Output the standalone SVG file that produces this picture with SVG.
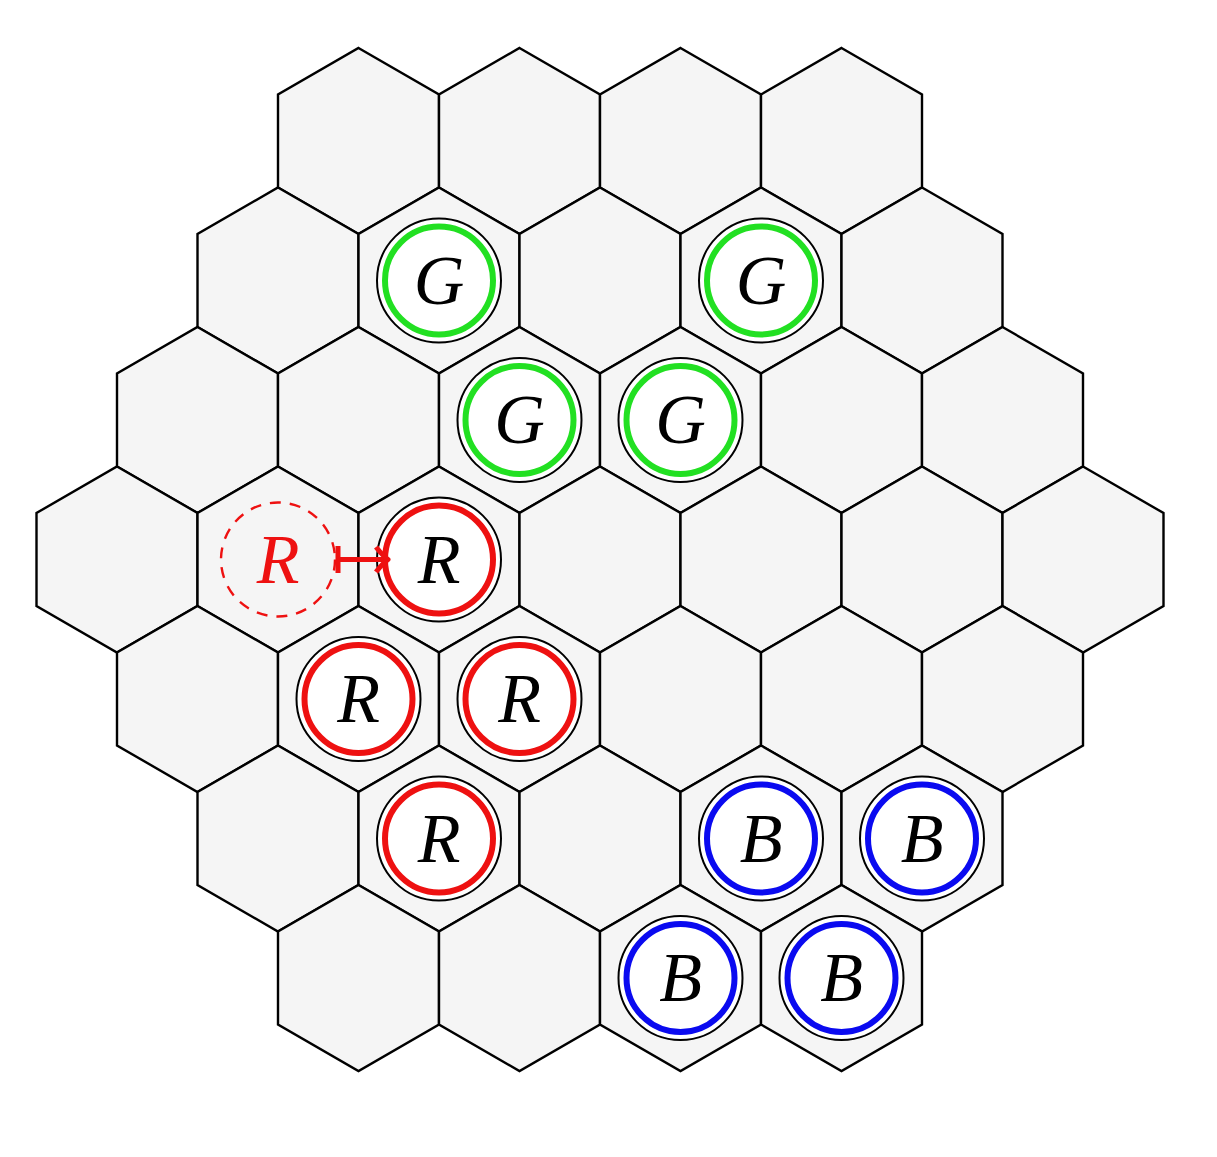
<svg xmlns="http://www.w3.org/2000/svg" xmlns:xlink="http://www.w3.org/1999/xlink" width="1217" height="1157" viewBox="0 0 1217 1157">
<style>
.hex{fill:#f5f5f5;stroke:#000;stroke-width:2.4;stroke-linejoin:miter}
.ring{fill:#fff;stroke:#000;stroke-width:2}
.g{fill:none;stroke:#22e022;stroke-width:6}
.r{fill:none;stroke:#ee1111;stroke-width:6}
.b{fill:none;stroke:#0a0af0;stroke-width:6}
.lbl{font-family:"Liberation Serif","DejaVu Serif",serif;font-style:italic;font-size:70px;text-anchor:middle;fill:#000}
.ghost{fill:none;stroke:#ee1111;stroke-width:2.4;stroke-dasharray:11 9}
.conn{fill:none;stroke:#ee1111;stroke-width:5;stroke-linecap:butt}
</style>
<defs>
<polygon id="h" points="0,-93 80.5,-46.5 80.5,46.5 0,93 -80.5,46.5 -80.5,-46.5"/>
</defs>
<rect width="1217" height="1157" fill="#fff"/>
<g id="board">
<g id="row0">
<use class="hex" xlink:href="#h" x="358.5" y="141"/><use class="hex" xlink:href="#h" x="519.5" y="141"/><use class="hex" xlink:href="#h" x="680.5" y="141"/><use class="hex" xlink:href="#h" x="841.5" y="141"/>
</g>
<g id="row1">
<use class="hex" xlink:href="#h" x="278" y="280.5"/><use class="hex" xlink:href="#h" x="439" y="280.5"/><use class="hex" xlink:href="#h" x="600" y="280.5"/><use class="hex" xlink:href="#h" x="761" y="280.5"/><use class="hex" xlink:href="#h" x="922" y="280.5"/>
</g>
<g id="row2">
<use class="hex" xlink:href="#h" x="197.5" y="420"/><use class="hex" xlink:href="#h" x="358.5" y="420"/><use class="hex" xlink:href="#h" x="519.5" y="420"/><use class="hex" xlink:href="#h" x="680.5" y="420"/><use class="hex" xlink:href="#h" x="841.5" y="420"/><use class="hex" xlink:href="#h" x="1002.5" y="420"/>
</g>
<g id="row3">
<use class="hex" xlink:href="#h" x="117" y="559.5"/><use class="hex" xlink:href="#h" x="278" y="559.5"/><use class="hex" xlink:href="#h" x="439" y="559.5"/><use class="hex" xlink:href="#h" x="600" y="559.5"/><use class="hex" xlink:href="#h" x="761" y="559.5"/><use class="hex" xlink:href="#h" x="922" y="559.5"/><use class="hex" xlink:href="#h" x="1083" y="559.5"/>
</g>
<g id="row4">
<use class="hex" xlink:href="#h" x="197.5" y="699"/><use class="hex" xlink:href="#h" x="358.5" y="699"/><use class="hex" xlink:href="#h" x="519.5" y="699"/><use class="hex" xlink:href="#h" x="680.5" y="699"/><use class="hex" xlink:href="#h" x="841.5" y="699"/><use class="hex" xlink:href="#h" x="1002.5" y="699"/>
</g>
<g id="row5">
<use class="hex" xlink:href="#h" x="278" y="838.5"/><use class="hex" xlink:href="#h" x="439" y="838.5"/><use class="hex" xlink:href="#h" x="600" y="838.5"/><use class="hex" xlink:href="#h" x="761" y="838.5"/><use class="hex" xlink:href="#h" x="922" y="838.5"/>
</g>
<g id="row6">
<use class="hex" xlink:href="#h" x="358.5" y="978"/><use class="hex" xlink:href="#h" x="519.5" y="978"/><use class="hex" xlink:href="#h" x="680.5" y="978"/><use class="hex" xlink:href="#h" x="841.5" y="978"/>
</g>
</g>
<g id="piece-g1" transform="translate(439,280.5)"><circle class="ring" r="62"/><circle class="g" r="54"/><text class="lbl" y="23">G</text></g>
<g id="piece-g2" transform="translate(761,280.5)"><circle class="ring" r="62"/><circle class="g" r="54"/><text class="lbl" y="23">G</text></g>
<g id="piece-g3" transform="translate(519.5,420)"><circle class="ring" r="62"/><circle class="g" r="54"/><text class="lbl" y="23">G</text></g>
<g id="piece-g4" transform="translate(680.5,420)"><circle class="ring" r="62"/><circle class="g" r="54"/><text class="lbl" y="23">G</text></g>
<g id="piece-ghost" transform="translate(278,559.5)"><circle class="ghost" r="57"/><text class="lbl" y="23" style="fill:#ee1111">R</text></g>
<g id="piece-r1" transform="translate(439,559.5)"><circle class="ring" r="62"/><circle class="r" r="54"/><text class="lbl" y="23">R</text></g>
<g id="piece-r2" transform="translate(358.5,699)"><circle class="ring" r="62"/><circle class="r" r="54"/><text class="lbl" y="23">R</text></g>
<g id="piece-r3" transform="translate(519.5,699)"><circle class="ring" r="62"/><circle class="r" r="54"/><text class="lbl" y="23">R</text></g>
<g id="piece-r4" transform="translate(439,838.5)"><circle class="ring" r="62"/><circle class="r" r="54"/><text class="lbl" y="23">R</text></g>
<g id="piece-b1" transform="translate(761,838.5)"><circle class="ring" r="62"/><circle class="b" r="54"/><text class="lbl" y="23">B</text></g>
<g id="piece-b2" transform="translate(922,838.5)"><circle class="ring" r="62"/><circle class="b" r="54"/><text class="lbl" y="23">B</text></g>
<g id="piece-b3" transform="translate(680.5,978)"><circle class="ring" r="62"/><circle class="b" r="54"/><text class="lbl" y="23">B</text></g>
<g id="piece-b4" transform="translate(841.5,978)"><circle class="ring" r="62"/><circle class="b" r="54"/><text class="lbl" y="23">B</text></g>
<g id="connectors">
<path class="conn" d="M338,546 V573 M338,559.5 H386"/>
<path class="conn" d="M376,547 Q383,556 388,559.5 Q383,563 376,572" stroke-linejoin="round"/>
</g>
</svg>
